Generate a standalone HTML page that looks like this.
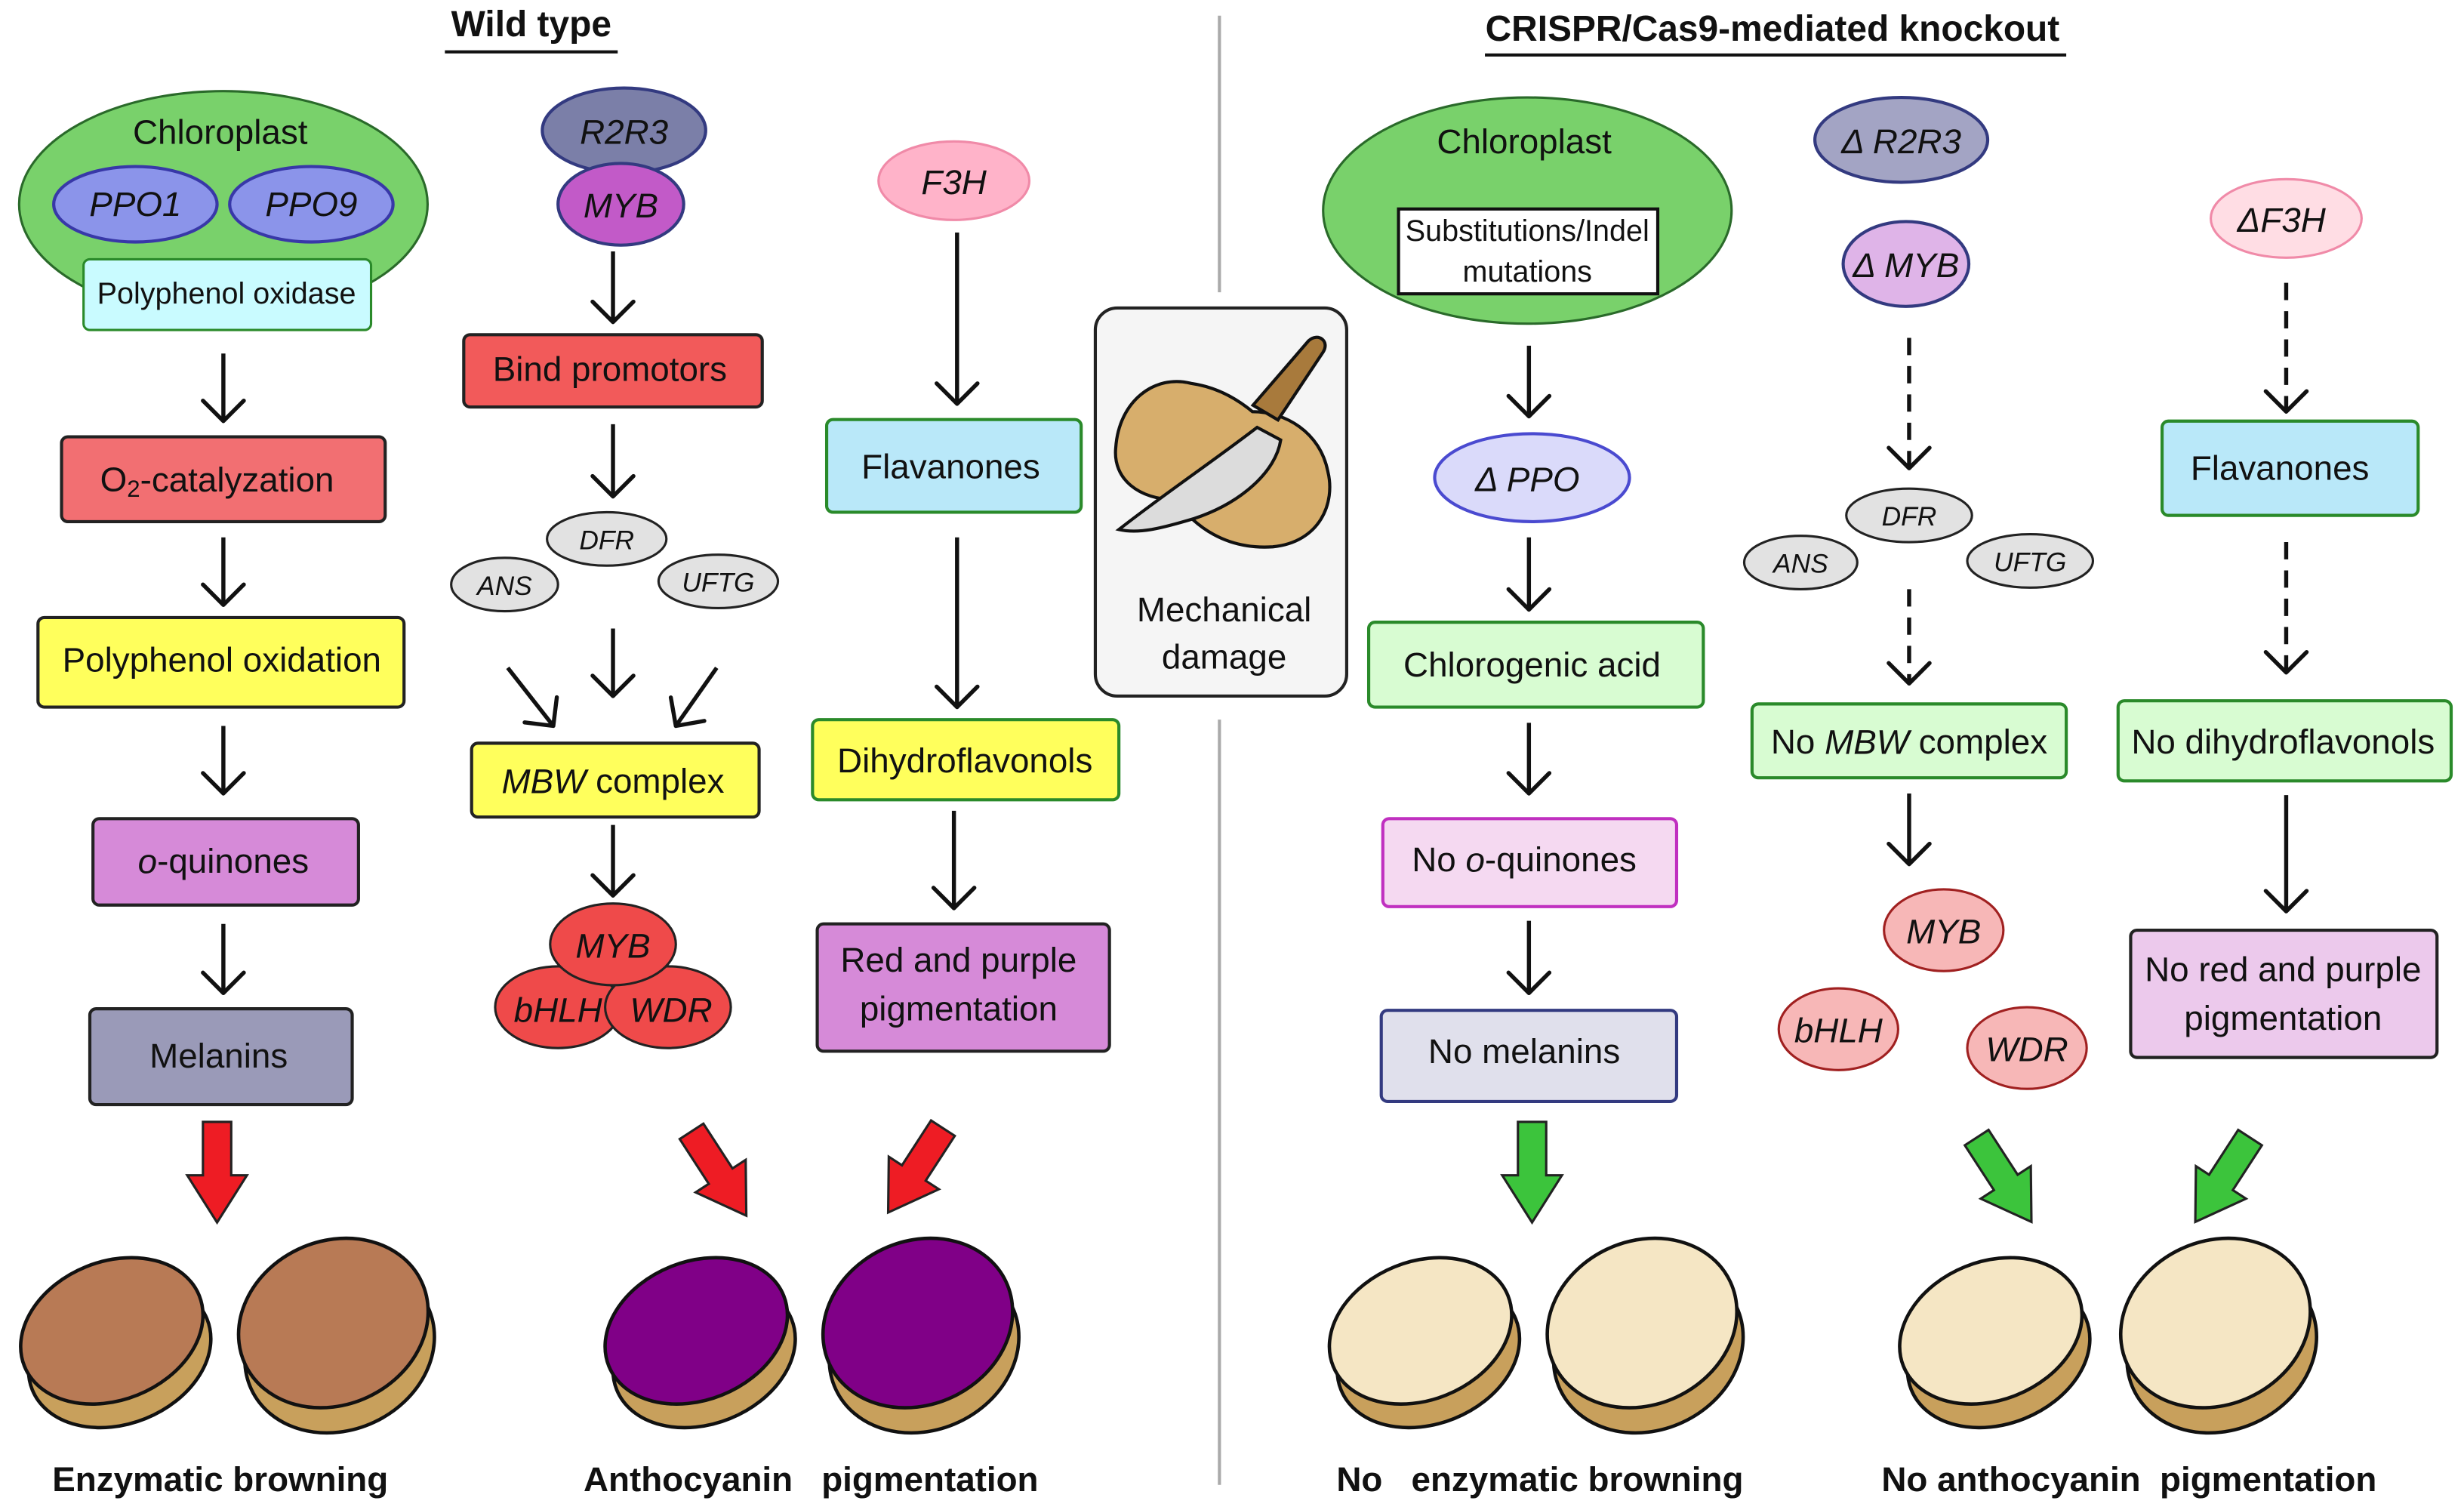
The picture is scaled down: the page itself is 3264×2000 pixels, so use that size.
<!DOCTYPE html>
<html><head><meta charset="utf-8"><style>
html,body{margin:0;padding:0;background:#fff;}
svg{display:block;}
text{font-family:"Liberation Sans",Arial,sans-serif;fill:#111;}
.t{font-size:22px;text-anchor:middle;dominant-baseline:central;}
.i{font-style:italic;}
.s{font-size:19px;}
.xs{font-size:17px;}
.b{font-weight:bold;font-size:22px;text-anchor:middle;}
.ar{stroke:#111;stroke-width:2.6;fill:none;}
.ah{stroke:#111;stroke-width:2.6;fill:none;stroke-linecap:round;stroke-linejoin:round;}
.d{stroke-dasharray:11,7;}
</style></head><body>
<svg width="3264" height="2000" viewBox="0 0 1568 961" xmlns="http://www.w3.org/2000/svg">
<defs>
<g id="head"><path d="M-13,-13 L0,0 L13,-13" class="ah"/></g>
<path id="blk" d="M-9,0 H9 V34 H19 L0,64 L-19,34 H-9 Z"/>
</defs>

<text x="338" y="23" class="b" style="font-size:23px">Wild type</text>
<line x1="283" y1="33" x2="393" y2="33" stroke="#111" stroke-width="2"/>
<text x="1128" y="26" class="b" style="font-size:23px">CRISPR/Cas9-mediated knockout</text>
<line x1="945" y1="35" x2="1315" y2="35" stroke="#111" stroke-width="2"/>
<line x1="776" y1="10" x2="776" y2="186" stroke="#aaa" stroke-width="2"/>
<line x1="776" y1="458" x2="776" y2="945" stroke="#aaa" stroke-width="2"/>

<!-- Column 1 -->
<ellipse cx="142" cy="130" rx="130" ry="72" fill="#79d16b" stroke="#2a6a2a" stroke-width="1.5"/>
<text x="140" y="84" class="t">Chloroplast</text>
<ellipse cx="86" cy="130" rx="52" ry="24" fill="#8b94ea" stroke="#3838a8" stroke-width="2"/>
<text x="86" y="130" class="t i">PPO1</text>
<ellipse cx="198" cy="130" rx="52" ry="24" fill="#8b94ea" stroke="#3838a8" stroke-width="2"/>
<text x="198" y="130" class="t i">PPO9</text>
<rect x="53" y="165" width="183" height="45" rx="4" fill="#c9fbff" stroke="#2a8a2a" stroke-width="1.5"/>
<text x="144" y="187" class="t s">Polyphenol oxidase</text>
<line x1="142" y1="225" x2="142" y2="268" class="ar"/><use href="#head" x="142" y="268"/>
<rect x="39" y="278" width="206" height="54" rx="4" fill="#f26f72" stroke="#222" stroke-width="2"/>
<text x="138" y="305" class="t">O<tspan font-size="15" dy="6">2</tspan><tspan dy="-6">-catalyzation</tspan></text>
<line x1="142" y1="342" x2="142" y2="385" class="ar"/><use href="#head" x="142" y="385"/>
<rect x="24" y="393" width="233" height="57" rx="4" fill="#ffff5c" stroke="#222" stroke-width="2"/>
<text x="141" y="420" class="t">Polyphenol oxidation</text>
<line x1="142" y1="462" x2="142" y2="505" class="ar"/><use href="#head" x="142" y="505"/>
<rect x="59" y="521" width="169" height="55" rx="4" fill="#d68ad8" stroke="#222" stroke-width="2"/>
<text x="142" y="548" class="t"><tspan font-style="italic">o</tspan>-quinones</text>
<line x1="142" y1="588" x2="142" y2="632" class="ar"/><use href="#head" x="142" y="632"/>
<rect x="57" y="642" width="167" height="61" rx="4" fill="#9a9ab8" stroke="#222" stroke-width="2"/>
<text x="139" y="672" class="t">Melanins</text>
<use href="#blk" transform="translate(138,714)" fill="#ee1c24" stroke="#222" stroke-width="1.5"/>

<!-- Column 2 -->
<ellipse cx="397" cy="83" rx="52" ry="27" fill="#7b7fa8" stroke="#333a80" stroke-width="2"/>
<text x="397" y="84" class="t i">R2R3</text>
<ellipse cx="395" cy="130" rx="40" ry="26" fill="#c25ac8" stroke="#333a80" stroke-width="2"/>
<text x="395" y="131" class="t i">MYB</text>
<line x1="390" y1="160" x2="390" y2="205" class="ar"/><use href="#head" x="390" y="205"/>
<rect x="295" y="213" width="190" height="46" rx="4" fill="#f25a5a" stroke="#222" stroke-width="2"/>
<text x="388" y="235" class="t">Bind promotors</text>
<line x1="390" y1="270" x2="390" y2="316" class="ar"/><use href="#head" x="390" y="316"/>
<ellipse cx="386" cy="343" rx="38" ry="17" fill="#e2e2e2" stroke="#222" stroke-width="1.5"/>
<text x="386" y="344" class="t i xs">DFR</text>
<ellipse cx="321" cy="372" rx="34" ry="17" fill="#e2e2e2" stroke="#222" stroke-width="1.5"/>
<text x="321" y="373" class="t i xs">ANS</text>
<ellipse cx="457" cy="370" rx="38" ry="17" fill="#e2e2e2" stroke="#222" stroke-width="1.5"/>
<text x="457" y="371" class="t i xs">UFTG</text>
<line x1="390" y1="400" x2="390" y2="443" class="ar"/><use href="#head" x="390" y="443"/>
<line x1="323" y1="425" x2="352" y2="462" class="ar"/><use href="#head" transform="translate(352,462) rotate(-38)"/>
<line x1="456" y1="425" x2="430" y2="462" class="ar"/><use href="#head" transform="translate(430,462) rotate(35)"/>
<rect x="300" y="473" width="183" height="47" rx="4" fill="#ffff5c" stroke="#222" stroke-width="2"/>
<text x="390" y="497" class="t"><tspan font-style="italic">MBW</tspan> complex</text>
<line x1="390" y1="525" x2="390" y2="570" class="ar"/><use href="#head" x="390" y="570"/>
<ellipse cx="355" cy="641" rx="40" ry="26" fill="#ef4a4a" stroke="#222" stroke-width="1.5"/>
<ellipse cx="425" cy="641" rx="40" ry="26" fill="#ef4a4a" stroke="#222" stroke-width="1.5"/>
<ellipse cx="390" cy="601" rx="40" ry="26" fill="#ef4a4a" stroke="#222" stroke-width="1.5"/>
<text x="390" y="602" class="t i">MYB</text>
<text x="355" y="643" class="t i">bHLH</text>
<text x="427" y="643" class="t i">WDR</text>
<use href="#blk" transform="translate(440,720) rotate(-33)" fill="#ee1c24" stroke="#222" stroke-width="1.5"/>

<!-- Column 3 -->
<ellipse cx="607" cy="115" rx="48" ry="25" fill="#ffb3c9" stroke="#f08aa8" stroke-width="1.5"/>
<text x="607" y="116" class="t i">F3H</text>
<line x1="609" y1="148" x2="609" y2="257" class="ar"/><use href="#head" x="609" y="257"/>
<rect x="526" y="267" width="162" height="59" rx="4" fill="#b9e8f9" stroke="#2a8a2a" stroke-width="2"/>
<text x="605" y="297" class="t">Flavanones</text>
<line x1="609" y1="342" x2="609" y2="450" class="ar"/><use href="#head" x="609" y="450"/>
<rect x="517" y="458" width="195" height="51" rx="4" fill="#ffff5c" stroke="#2a8a2a" stroke-width="2"/>
<text x="614" y="484" class="t">Dihydroflavonols</text>
<line x1="607" y1="516" x2="607" y2="578" class="ar"/><use href="#head" x="607" y="578"/>
<rect x="520" y="588" width="186" height="81" rx="4" fill="#d68ad8" stroke="#222" stroke-width="2"/>
<text x="610" y="611" class="t">Red and purple</text>
<text x="610" y="642" class="t">pigmentation</text>
<use href="#blk" transform="translate(600,718) rotate(33)" fill="#ee1c24" stroke="#222" stroke-width="1.5"/>

<!-- Mechanical damage -->
<rect x="697" y="196" width="160" height="247" rx="14" fill="#f5f5f5" stroke="#222" stroke-width="2"/>
<path d="M758,244 C735,238 712,255 710,285 C708,305 725,318 748,318 C760,335 780,350 810,348 C840,345 850,320 845,300 C840,275 818,262 797,262 C785,252 772,246 758,244 Z" fill="#d7ae6c" stroke="#111" stroke-width="2"/>
<path d="M712,337 C740,315 770,295 800,272 L815,280 C812,300 790,320 760,330 C740,336 725,340 712,337 Z" fill="#dcdcdc" stroke="#111" stroke-width="2"/>
<path d="M804,264 L825,214 C829,207 838,210 836,218 L822,268 Z" fill="#a87a3c" stroke="#111" stroke-width="2" transform="rotate(18,820,240)"/>
<text x="779" y="388" class="t">Mechanical</text>
<text x="779" y="418" class="t">damage</text>

<!-- Column 4 -->
<ellipse cx="972" cy="134" rx="130" ry="72" fill="#79d16b" stroke="#2a6a2a" stroke-width="1.5"/>
<text x="970" y="90" class="t">Chloroplast</text>
<rect x="890" y="133" width="165" height="54" fill="#fff" stroke="#111" stroke-width="2"/>
<text x="972" y="147" class="t s">Substitutions/Indel</text>
<text x="972" y="173" class="t s">mutations</text>
<line x1="973" y1="220" x2="973" y2="265" class="ar"/><use href="#head" x="973" y="265"/>
<ellipse cx="975" cy="304" rx="62" ry="28" fill="#dadafa" stroke="#4a4ad0" stroke-width="2"/>
<text x="972" y="305" class="t i">Δ PPO</text>
<line x1="973" y1="342" x2="973" y2="388" class="ar"/><use href="#head" x="973" y="388"/>
<rect x="871" y="396" width="213" height="54" rx="4" fill="#d8fcd2" stroke="#2a8a2a" stroke-width="2"/>
<text x="975" y="423" class="t">Chlorogenic acid</text>
<line x1="973" y1="460" x2="973" y2="505" class="ar"/><use href="#head" x="973" y="505"/>
<rect x="880" y="521" width="187" height="56" rx="4" fill="#f5d9f1" stroke="#c030c0" stroke-width="2"/>
<text x="970" y="547" class="t">No <tspan font-style="italic">o</tspan>-quinones</text>
<line x1="973" y1="586" x2="973" y2="632" class="ar"/><use href="#head" x="973" y="632"/>
<rect x="879" y="643" width="188" height="58" rx="4" fill="#e0e0ec" stroke="#333a80" stroke-width="2"/>
<text x="970" y="669" class="t">No melanins</text>
<use href="#blk" transform="translate(975,714)" fill="#3cc43c" stroke="#222" stroke-width="1.5"/>

<!-- Column 5 -->
<ellipse cx="1210" cy="89" rx="55" ry="27" fill="#a3a4c4" stroke="#333a80" stroke-width="2"/>
<text x="1210" y="90" class="t i">Δ R2R3</text>
<ellipse cx="1213" cy="168" rx="40" ry="27" fill="#dfb4e8" stroke="#333a80" stroke-width="2"/>
<text x="1213" y="169" class="t i">Δ MYB</text>
<line x1="1215" y1="215" x2="1215" y2="297" class="ar d"/><use href="#head" x="1215" y="298"/>
<ellipse cx="1215" cy="328" rx="40" ry="17" fill="#e2e2e2" stroke="#222" stroke-width="1.5"/>
<text x="1215" y="329" class="t i xs">DFR</text>
<ellipse cx="1146" cy="358" rx="36" ry="17" fill="#e2e2e2" stroke="#222" stroke-width="1.5"/>
<text x="1146" y="359" class="t i xs">ANS</text>
<ellipse cx="1292" cy="357" rx="40" ry="17" fill="#e2e2e2" stroke="#222" stroke-width="1.5"/>
<text x="1292" y="358" class="t i xs">UFTG</text>
<line x1="1215" y1="375" x2="1215" y2="434" class="ar d"/><use href="#head" x="1215" y="435"/>
<rect x="1115" y="448" width="200" height="47" rx="4" fill="#d8fcd2" stroke="#2a8a2a" stroke-width="2"/>
<text x="1215" y="472" class="t">No  <tspan font-style="italic">MBW</tspan> complex</text>
<line x1="1215" y1="505" x2="1215" y2="550" class="ar"/><use href="#head" x="1215" y="550"/>
<ellipse cx="1237" cy="592" rx="38" ry="26" fill="#f7b7b7" stroke="#a02020" stroke-width="1.5"/>
<text x="1237" y="593" class="t i">MYB</text>
<ellipse cx="1170" cy="655" rx="38" ry="26" fill="#f7b7b7" stroke="#a02020" stroke-width="1.5"/>
<text x="1170" y="656" class="t i">bHLH</text>
<ellipse cx="1290" cy="667" rx="38" ry="26" fill="#f7b7b7" stroke="#a02020" stroke-width="1.5"/>
<text x="1290" y="668" class="t i">WDR</text>
<use href="#blk" transform="translate(1258,724) rotate(-33)" fill="#3cc43c" stroke="#222" stroke-width="1.5"/>

<!-- Column 6 -->
<ellipse cx="1455" cy="139" rx="48" ry="25" fill="#ffdde4" stroke="#f08aa8" stroke-width="1.5"/>
<text x="1452" y="140" class="t i">ΔF3H</text>
<line x1="1455" y1="180" x2="1455" y2="261" class="ar d"/><use href="#head" x="1455" y="262"/>
<rect x="1376" y="268" width="163" height="60" rx="4" fill="#b9e8f9" stroke="#2a8a2a" stroke-width="2"/>
<text x="1451" y="298" class="t">Flavanones</text>
<line x1="1455" y1="345" x2="1455" y2="427" class="ar d"/><use href="#head" x="1455" y="428"/>
<rect x="1348" y="446" width="212" height="51" rx="4" fill="#d8fcd2" stroke="#2a8a2a" stroke-width="2"/>
<text x="1453" y="472" class="t">No dihydroflavonols</text>
<line x1="1455" y1="506" x2="1455" y2="580" class="ar"/><use href="#head" x="1455" y="580"/>
<rect x="1356" y="592" width="195" height="81" rx="4" fill="#ecc9ec" stroke="#222" stroke-width="2"/>
<text x="1453" y="617" class="t">No red and purple</text>
<text x="1453" y="648" class="t">pigmentation</text>
<use href="#blk" transform="translate(1432,724) rotate(33)" fill="#3cc43c" stroke="#222" stroke-width="1.5"/>

<!-- potatoes -->
<g stroke="#111" stroke-width="2.2">
 <ellipse cx="76" cy="862" rx="60" ry="44" transform="rotate(-22 76 862)" fill="#c8a05c"/>
 <ellipse cx="71" cy="847" rx="60" ry="44" transform="rotate(-22 71 847)" fill="#b87a55"/>
 <ellipse cx="216" cy="858" rx="62" ry="52" transform="rotate(-25 216 858)" fill="#c8a05c"/>
 <ellipse cx="212" cy="842" rx="62" ry="52" transform="rotate(-25 212 842)" fill="#b87a55"/>

 <ellipse cx="448" cy="862" rx="60" ry="44" transform="rotate(-22 448 862)" fill="#c8a05c"/>
 <ellipse cx="443" cy="847" rx="60" ry="44" transform="rotate(-22 443 847)" fill="#800087"/>
 <ellipse cx="588" cy="858" rx="62" ry="52" transform="rotate(-25 588 858)" fill="#c8a05c"/>
 <ellipse cx="584" cy="842" rx="62" ry="52" transform="rotate(-25 584 842)" fill="#800087"/>

 <ellipse cx="909" cy="862" rx="60" ry="44" transform="rotate(-22 909 862)" fill="#c8a05c"/>
 <ellipse cx="904" cy="847" rx="60" ry="44" transform="rotate(-22 904 847)" fill="#f5e6c4"/>
 <ellipse cx="1049" cy="858" rx="62" ry="52" transform="rotate(-25 1049 858)" fill="#c8a05c"/>
 <ellipse cx="1045" cy="842" rx="62" ry="52" transform="rotate(-25 1045 842)" fill="#f5e6c4"/>

 <ellipse cx="1272" cy="862" rx="60" ry="44" transform="rotate(-22 1272 862)" fill="#c8a05c"/>
 <ellipse cx="1267" cy="847" rx="60" ry="44" transform="rotate(-22 1267 847)" fill="#f5e6c4"/>
 <ellipse cx="1414" cy="858" rx="62" ry="52" transform="rotate(-25 1414 858)" fill="#c8a05c"/>
 <ellipse cx="1410" cy="842" rx="62" ry="52" transform="rotate(-25 1410 842)" fill="#f5e6c4"/>
</g>

<text x="140" y="949" class="b">Enzymatic browning</text>
<text x="516" y="949" class="b" xml:space="preserve">Anthocyanin   pigmentation</text>
<text x="980" y="949" class="b" xml:space="preserve">No   enzymatic browning</text>
<text x="1355" y="949" class="b" xml:space="preserve">No anthocyanin  pigmentation</text>
</svg>
</body></html>
